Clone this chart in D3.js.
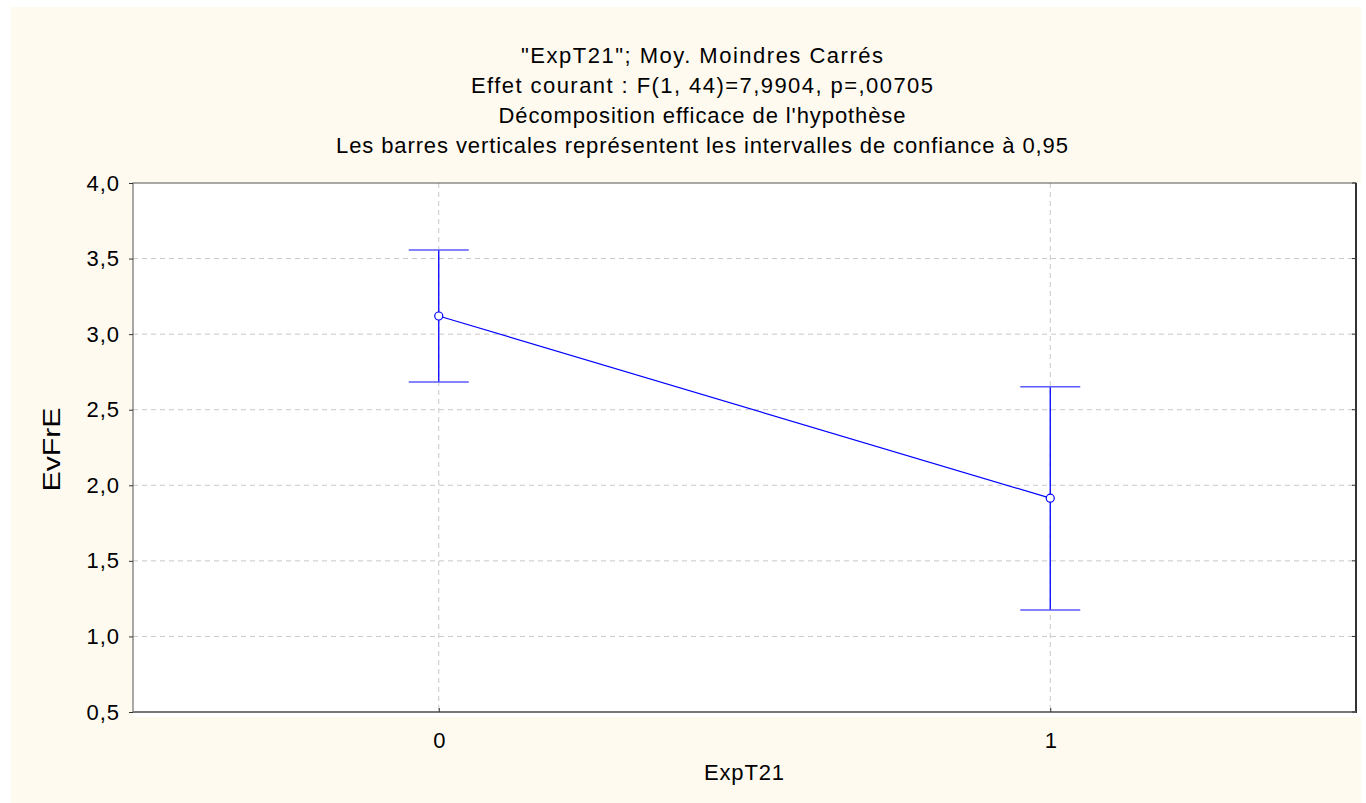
<!DOCTYPE html>
<html>
<head>
<meta charset="utf-8">
<script src="https://cdn.jsdelivr.net/npm/d3@7"></script>
<style>
  html, body { margin: 0; padding: 0; background: #ffffff; }
  svg { display: block; font-family: "Liberation Sans", Arial, sans-serif; }
</style>
</head>
<body>
<div id="chart"></div>
<script>
const categories = ["0", "1"];
const means = [3.12, 1.915];
const lowerCI = [2.683, 1.175];
const upperCI = [3.557, 2.652];
const yTicks = [0.5, 1.0, 1.5, 2.0, 2.5, 3.0, 3.5, 4.0];
const titleLines = [
  "\"ExpT21\"; Moy. Moindres Carrés",
  "Effet courant : F(1, 44)=7,9904, p=,00705",
  "Décomposition efficace de l'hypothèse",
  "Les barres verticales représentent les intervalles de confiance à 0,95"
];
// measured widths of the title lines in the reference (px)
const titleWidths = [362, 462, 407, 732];
const xTitle = "ExpT21";
const yTitle = "EvFrE";

const width = 1366, height = 803;
const margin = { left: 133, top: 183 };
const plotW = 1356 - margin.left;
const plotH = 712 - margin.top;

const svg = d3.select("#chart").append("svg")
  .attr("width", width)
  .attr("height", height);

// cream page background
svg.append("rect")
  .attr("x", 11).attr("y", 7)
  .attr("width", 1350).attr("height", 796)
  .attr("fill", "#fffaf0");

// white offset behind the plot
svg.append("rect")
  .attr("x", margin.left).attr("y", margin.top)
  .attr("width", plotW + 5).attr("height", plotH + 5)
  .attr("fill", "#ffffff");

const x = d3.scaleLinear().domain([-0.5, 1.5]).range([0, plotW]);
const y = d3.scaleLinear().domain([0.5, 4.0]).range([plotH, 0]);
const fmt = v => d3.format(".1f")(v).replace(".", ",");

const g = svg.append("g").attr("transform", `translate(${margin.left},${margin.top})`);

// grid
g.selectAll(".hgrid").data(yTicks.slice(1, -1)).enter().append("line")
  .attr("x1", 0).attr("x2", plotW)
  .attr("y1", d => y(d)).attr("y2", d => y(d))
  .attr("stroke", "#c8c8c8").attr("stroke-dasharray", "5,4");
g.selectAll(".vgrid").data(categories).enter().append("line")
  .attr("x1", (d, i) => x(i)).attr("x2", (d, i) => x(i))
  .attr("y1", 0).attr("y2", plotH)
  .attr("stroke", "#c8c8c8").attr("stroke-dasharray", "5,4");

// frame
g.append("rect")
  .attr("x", 0).attr("y", 0).attr("width", plotW).attr("height", plotH)
  .attr("fill", "none").attr("stroke", "#555555").attr("stroke-width", 1);
g.append("line").attr("x1", plotW).attr("x2", plotW).attr("y1", 0).attr("y2", plotH + 1)
  .attr("stroke", "#333333").attr("stroke-width", 2);
g.append("line").attr("x1", 0).attr("x2", plotW).attr("y1", plotH).attr("y2", plotH)
  .attr("stroke", "#777777").attr("stroke-width", 2);

// y axis labels and ticks
const yAxis = d3.axisLeft(y).tickValues(yTicks).tickSize(4).tickPadding(9).tickFormat(fmt);
const ya = g.append("g").call(yAxis);
ya.select(".domain").remove();
ya.selectAll(".tick line").attr("stroke", "#333");
ya.selectAll(".tick text")
  .attr("fill", "#000").style("font-size", "22px")
  .style("letter-spacing", "1px");

// right inner ticks
g.selectAll(".rtick").data(yTicks).enter().append("line")
  .attr("x1", plotW - 4).attr("x2", plotW)
  .attr("y1", d => y(d)).attr("y2", d => y(d))
  .attr("stroke", "#333");

// x axis
const xa = g.append("g").attr("transform", `translate(0,${plotH})`)
  .call(d3.axisBottom(x).tickValues([0, 1]).tickSize(-4).tickPadding(20).tickFormat(d => categories[d]));
xa.select(".domain").remove();
xa.selectAll(".tick line").attr("stroke", "#333");
xa.selectAll(".tick text").attr("fill", "#000").style("font-size", "22px");

// axis titles
svg.append("text")
  .attr("x", 744).attr("y", 780)
  .attr("text-anchor", "middle").style("font-size", "22px")
  .attr("textLength", 80)
  .text(xTitle);
svg.append("text")
  .attr("transform", `translate(60,${margin.top + plotH / 2 + 2}) rotate(-90)`)
  .attr("text-anchor", "middle").style("font-size", "24px")
  .attr("textLength", 84).attr("lengthAdjust", "spacingAndGlyphs")
  .text(yTitle);

// title
svg.append("g").selectAll("text").data(titleLines).enter().append("text")
  .attr("x", 702).attr("y", (d, i) => 63 + i * 30)
  .attr("text-anchor", "middle").style("font-size", "22px")
  .attr("textLength", (d, i) => titleWidths[i])
  .text(d => d);

// mean line
const line = d3.line().x((d, i) => x(i)).y(d => y(d));
g.append("path").datum(means)
  .attr("d", line).attr("fill", "none")
  .attr("stroke", "#0000ff").attr("stroke-width", 1.2);

// error bars
const bars = g.selectAll(".err").data(categories).enter().append("g");
bars.append("line")
  .attr("x1", (d, i) => x(i)).attr("x2", (d, i) => x(i))
  .attr("y1", (d, i) => y(lowerCI[i])).attr("y2", (d, i) => y(upperCI[i]))
  .attr("stroke", "#0000ff").attr("stroke-width", 1.3);
[lowerCI, upperCI].forEach(arr => {
  bars.append("line")
    .attr("x1", (d, i) => x(i) - 30).attr("x2", (d, i) => x(i) + 30)
    .attr("y1", (d, i) => y(arr[i])).attr("y2", (d, i) => y(arr[i]))
    .attr("stroke", "#5a5aff").attr("stroke-width", 1.5);
});

// markers
g.selectAll(".pt").data(means).enter().append("circle")
  .attr("cx", (d, i) => x(i)).attr("cy", d => y(d)).attr("r", 4)
  .attr("fill", "#ffffff").attr("stroke", "#0000ff").attr("stroke-width", 1.2);
</script>
</body>
</html>
